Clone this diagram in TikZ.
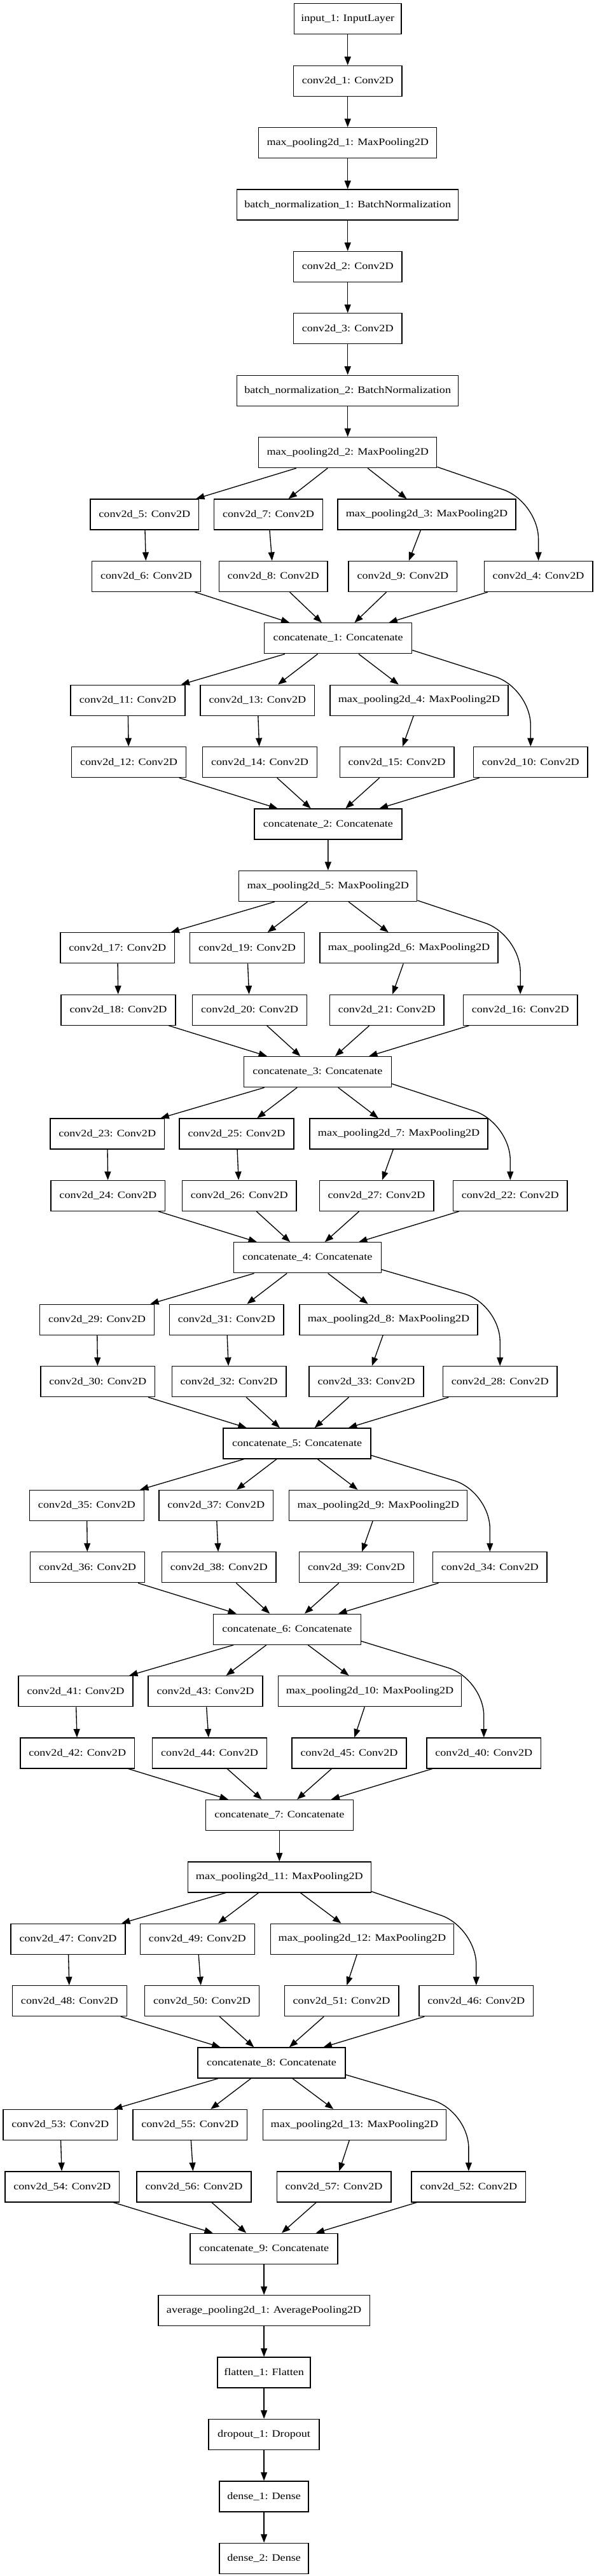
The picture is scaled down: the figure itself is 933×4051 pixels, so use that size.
\documentclass[tikz,border=0pt]{standalone}
\usepackage{fontspec}
\setmainfont{Liberation Serif}[FakeStretch=1.16]
\usetikzlibrary{arrows.meta}
\tikzset{
  box/.style={draw, line width=1pt, minimum height=36pt, inner xsep=1pt, inner ysep=0pt,
              font=\fontsize{11.7pt}{14pt}\selectfont, fill=white},
  boxw/.style={box, minimum width=#1*0.75pt},
  cv/.style={boxw=170.5},
  cvv/.style={boxw=179.7},
  mp/.style={boxw=280},
  mpp/.style={boxw=288},
  cat/.style={boxw=232},
  arr/.style={line width=1pt, -{Triangle[length=10pt,width=7.5pt]}},
  longedge/.style={arr, rounded corners=44pt},
}
\begin{document}
\begin{tikzpicture}[x=0.75pt, y=-0.75pt]
\fill[white] (0,0) rectangle (933,4051);
\useasboundingbox (0,0) rectangle (933,4051);

% stem
\node[boxw=168.7] (input) at (546.7,29.8) {input\_1: InputLayer};
\node[cv] (c1) at (546.7,127.2) {conv2d\_1: Conv2D};
\node[mp] (mp1) at (546.7,224.6) {max\_pooling2d\_1: MaxPooling2D};
\node[boxw=348] (bn1) at (546.7,322.0) {batch\_normalization\_1: BatchNormalization};
\node[cv] (c2) at (546.7,419.4) {conv2d\_2: Conv2D};
\node[cv] (c3) at (546.7,516.8) {conv2d\_3: Conv2D};
\node[boxw=348] (bn2) at (546.7,614.2) {batch\_normalization\_2: BatchNormalization};
\node[mp] (mp2) at (546.7,711.6) {max\_pooling2d\_2: MaxPooling2D};

% block 1
\node[cv] (c5) at (227.3,809.0) {conv2d\_5: Conv2D};
\node[cv] (c7) at (422.0,809.0) {conv2d\_7: Conv2D};
\node[mp] (mp3) at (671.0,809.0) {max\_pooling2d\_3: MaxPooling2D};
\node[cv] (c6) at (230.0,906.4) {conv2d\_6: Conv2D};
\node[cv] (c8) at (429.7,906.4) {conv2d\_8: Conv2D};
\node[cv] (c9) at (633.4,906.4) {conv2d\_9: Conv2D};
\node[cv] (c4) at (846.6,906.4) {conv2d\_4: Conv2D};
\node[cat] (cat1) at (531.7,1003.8) {concatenate\_1: Concatenate};

% block 2
\node[cvv] (c11) at (201.0,1101.2) {conv2d\_11: Conv2D};
\node[cvv] (c13) at (404.9,1101.2) {conv2d\_13: Conv2D};
\node[mp] (mp4) at (659.0,1101.2) {max\_pooling2d\_4: MaxPooling2D};
\node[cvv] (c12) at (202.5,1198.6) {conv2d\_12: Conv2D};
\node[cvv] (c14) at (408.5,1198.6) {conv2d\_14: Conv2D};
\node[cvv] (c15) at (624.1,1198.6) {conv2d\_15: Conv2D};
\node[cvv] (c10) at (834.3,1198.6) {conv2d\_10: Conv2D};
\node[cat] (cat2) at (515.9,1296.0) {concatenate\_2: Concatenate};
\node[mp] (mp5) at (515.8,1393.4) {max\_pooling2d\_5: MaxPooling2D};

% block 3
\node[cvv] (c17) at (184.8,1490.8) {conv2d\_17: Conv2D};
\node[cvv] (c19) at (388.5,1490.8) {conv2d\_19: Conv2D};
\node[mp] (mp6) at (643.0,1490.8) {max\_pooling2d\_6: MaxPooling2D};
\node[cvv] (c18) at (186.0,1588.2) {conv2d\_18: Conv2D};
\node[cvv] (c20) at (392.6,1588.2) {conv2d\_20: Conv2D};
\node[cvv] (c21) at (608.3,1588.2) {conv2d\_21: Conv2D};
\node[cvv] (c16) at (818.2,1588.2) {conv2d\_16: Conv2D};
\node[cat] (cat3) at (499.4,1685.6) {concatenate\_3: Concatenate};

% block 4
\node[cvv] (c23) at (168.7,1783.0) {conv2d\_23: Conv2D};
\node[cvv] (c25) at (372.0,1783.0) {conv2d\_25: Conv2D};
\node[mp] (mp7) at (627.1,1783.0) {max\_pooling2d\_7: MaxPooling2D};
\node[cvv] (c24) at (169.9,1880.4) {conv2d\_24: Conv2D};
\node[cvv] (c26) at (376.2,1880.4) {conv2d\_26: Conv2D};
\node[cvv] (c27) at (592.1,1880.4) {conv2d\_27: Conv2D};
\node[cvv] (c22) at (802.3,1880.4) {conv2d\_22: Conv2D};
\node[cat] (cat4) at (483.3,1977.8) {concatenate\_4: Concatenate};

% block 5
\node[cvv] (c29) at (152.5,2075.2) {conv2d\_29: Conv2D};
\node[cvv] (c31) at (356.2,2075.2) {conv2d\_31: Conv2D};
\node[mp] (mp8) at (611.0,2075.2) {max\_pooling2d\_8: MaxPooling2D};
\node[cvv] (c30) at (153.7,2172.6) {conv2d\_30: Conv2D};
\node[cvv] (c32) at (360.1,2172.6) {conv2d\_32: Conv2D};
\node[cvv] (c33) at (576.0,2172.6) {conv2d\_33: Conv2D};
\node[cvv] (c28) at (786.2,2172.6) {conv2d\_28: Conv2D};
\node[cat] (cat5) at (467.1,2270.0) {concatenate\_5: Concatenate};

% block 6
\node[cvv] (c35) at (136.4,2367.4) {conv2d\_35: Conv2D};
\node[cvv] (c37) at (339.7,2367.4) {conv2d\_37: Conv2D};
\node[mp] (mp9) at (594.8,2367.4) {max\_pooling2d\_9: MaxPooling2D};
\node[cvv] (c36) at (137.6,2464.8) {conv2d\_36: Conv2D};
\node[cvv] (c38) at (344.2,2464.8) {conv2d\_38: Conv2D};
\node[cvv] (c39) at (560.4,2464.8) {conv2d\_39: Conv2D};
\node[cvv] (c34) at (770.3,2464.8) {conv2d\_34: Conv2D};
\node[cat] (cat6) at (451.3,2562.2) {concatenate\_6: Concatenate};

% block 7
\node[cvv] (c41) at (119.0,2659.6) {conv2d\_41: Conv2D};
\node[cvv] (c43) at (323.0,2659.6) {conv2d\_43: Conv2D};
\node[mpp] (mp10) at (581.6,2659.6) {max\_pooling2d\_10: MaxPooling2D};
\node[cvv] (c42) at (121.7,2757.0) {conv2d\_42: Conv2D};
\node[cvv] (c44) at (329.6,2757.0) {conv2d\_44: Conv2D};
\node[cvv] (c45) at (549.0,2757.0) {conv2d\_45: Conv2D};
\node[cvv] (c40) at (760.8,2757.0) {conv2d\_40: Conv2D};
\node[cat] (cat7) at (439.3,2854.4) {concatenate\_7: Concatenate};
\node[mpp] (mp11) at (439.3,2951.8) {max\_pooling2d\_11: MaxPooling2D};

% block 8
\node[cvv] (c47) at (107.0,3049.2) {conv2d\_47: Conv2D};
\node[cvv] (c49) at (310.4,3049.2) {conv2d\_49: Conv2D};
\node[mpp] (mp12) at (569.4,3049.2) {max\_pooling2d\_12: MaxPooling2D};
\node[cvv] (c48) at (109.4,3146.6) {conv2d\_48: Conv2D};
\node[cvv] (c50) at (317.6,3146.6) {conv2d\_50: Conv2D};
\node[cvv] (c51) at (537.1,3146.6) {conv2d\_51: Conv2D};
\node[cvv] (c46) at (748.8,3146.6) {conv2d\_46: Conv2D};
\node[cat] (cat8) at (427.0,3244.0) {concatenate\_8: Concatenate};

% block 9
\node[cvv] (c53) at (94.8,3341.4) {conv2d\_53: Conv2D};
\node[cvv] (c55) at (298.8,3341.4) {conv2d\_55: Conv2D};
\node[mpp] (mp13) at (557.4,3341.4) {max\_pooling2d\_13: MaxPooling2D};
\node[cvv] (c54) at (97.8,3438.8) {conv2d\_54: Conv2D};
\node[cvv] (c56) at (305.0,3438.8) {conv2d\_56: Conv2D};
\node[cvv] (c57) at (525.1,3438.8) {conv2d\_57: Conv2D};
\node[cvv] (c52) at (736.9,3438.8) {conv2d\_52: Conv2D};
\node[cat] (cat9) at (415.1,3536.2) {concatenate\_9: Concatenate};

% head
\node[boxw=332.5] (avg) at (415.1,3633.6) {average\_pooling2d\_1: AveragePooling2D};
\node[boxw=146] (flat) at (415.1,3731.0) {flatten\_1: Flatten};
\node[boxw=174] (drop) at (415.1,3828.4) {dropout\_1: Dropout};
\node[boxw=140] (d1) at (415.1,3925.8) {dense\_1: Dense};
\node[boxw=140] (d2) at (415.1,4023.2) {dense\_2: Dense};

% stem edges
\draw[arr] (input) -- (c1);
\draw[arr] (c1) -- (mp1);
\draw[arr] (mp1) -- (bn1);
\draw[arr] (bn1) -- (c2);
\draw[arr] (c2) -- (c3);
\draw[arr] (c3) -- (bn2);
\draw[arr] (bn2) -- (mp2);

% inception blocks: source / row1 / row2 / concat
\foreach \s/\a/\b/\m/\aa/\bb/\mm/\r/\c in {
  mp2/c5/c7/mp3/c6/c8/c9/c4/cat1,
  cat1/c11/c13/mp4/c12/c14/c15/c10/cat2,
  mp5/c17/c19/mp6/c18/c20/c21/c16/cat3,
  cat3/c23/c25/mp7/c24/c26/c27/c22/cat4,
  cat4/c29/c31/mp8/c30/c32/c33/c28/cat5,
  cat5/c35/c37/mp9/c36/c38/c39/c34/cat6,
  cat6/c41/c43/mp10/c42/c44/c45/c40/cat7,
  mp11/c47/c49/mp12/c48/c50/c51/c46/cat8,
  cat8/c53/c55/mp13/c54/c56/c57/c52/cat9}{
  \draw[arr] (\s) -- (\a);
  \draw[arr] (\s) -- (\b);
  \draw[arr] (\s) -- (\m);
  \draw[arr] (\a) -- (\aa);
  \draw[arr] (\b) -- (\bb);
  \draw[arr] (\m) -- (\mm);
  \draw[arr] (\aa) -- (\c);
  \draw[arr] (\bb) -- (\c);
  \draw[arr] (\mm) -- (\c);
  \draw[arr] (\r) -- (\c);
}

% long branches
\draw[longedge] ([yshift=1.5pt]mp2.south east) -- (846.6,789.0) -- (c4.north);
\draw[longedge] ([yshift=4.5pt]cat1.south east) -- (834.3,1082.0) -- (c10.north);
\draw[longedge] ([yshift=1.5pt]mp5.south east) -- (818.2,1470.0) -- (c16.north);
\draw[longedge] ([yshift=4.5pt]cat3.south east) -- (802.3,1766.0) -- (c22.north);
\draw[longedge] ([yshift=4.5pt]cat4.south east) -- (786.2,2051.0) -- (c28.north);
\draw[longedge] ([yshift=4.5pt]cat5.south east) -- (770.3,2345.5) -- (c34.north);
\draw[longedge] ([yshift=4.5pt]cat6.south east) -- (760.8,2640.0) -- (c40.north);
\draw[longedge] ([yshift=1.5pt]mp11.south east) -- (748.8,3031.0) -- (c46.north);
\draw[longedge] ([yshift=4.5pt]cat8.south east) -- (736.9,3319.5) -- (c52.north);

% linear links
\draw[arr] (cat2) -- (mp5);
\draw[arr] (cat7) -- (mp11);
\draw[arr] (cat9) -- (avg);
\draw[arr] (avg) -- (flat);
\draw[arr] (flat) -- (drop);
\draw[arr] (drop) -- (d1);
\draw[arr] (d1) -- (d2);
\end{tikzpicture}
\end{document}
